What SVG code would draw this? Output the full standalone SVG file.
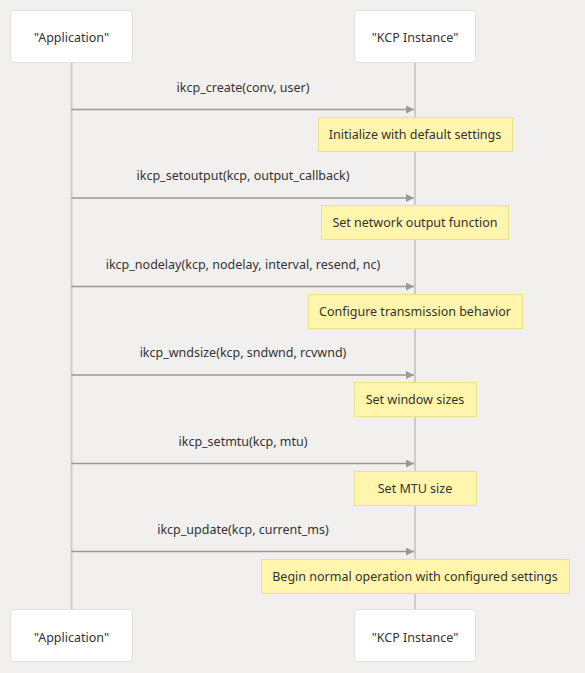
<svg xmlns="http://www.w3.org/2000/svg" width="585" height="673" viewBox="0 0 585 673">
<defs>
<style>
text{font-family:"Noto Sans","Liberation Sans",sans-serif;font-size:12.5px;fill:#333;text-anchor:middle;dominant-baseline:central}
.actor{fill:#fff;stroke:#e0e0e0;stroke-width:1}
.life{stroke:#ccc;stroke-width:2}
.msg{stroke:#999;stroke-width:1.5;fill:none;marker-end:url(#ah)}
.note{fill:#fff5ad;stroke:#ede08a;stroke-width:1}
</style>
<marker id="ah" viewBox="0 0 10 10" refX="10" refY="5" markerWidth="8" markerHeight="8" markerUnits="userSpaceOnUse" orient="auto">
<path d="M0,0 L10,5 L0,10 z" fill="#999"/>
</marker>
</defs>
<rect width="585" height="673" fill="#f2f0ef"/>
<g id="lifelines">
<line class="life" x1="71.5" y1="62" x2="71.5" y2="609"/>
<line class="life" x1="415" y1="62" x2="415" y2="609"/>
</g>
<g id="actor-app-top"><rect class="actor" x="10.5" y="10.5" width="122" height="52" rx="3"/><text x="71.5" y="37">"Application"</text></g>
<g id="actor-kcp-top"><rect class="actor" x="354.5" y="10.5" width="121" height="52" rx="3"/><text x="415" y="37">"KCP Instance"</text></g>
<g id="actor-app-bottom"><rect class="actor" x="10.5" y="609.5" width="122" height="52" rx="3"/><text x="71.5" y="637">"Application"</text></g>
<g id="actor-kcp-bottom"><rect class="actor" x="354.5" y="609.5" width="121" height="52" rx="3"/><text x="415" y="637">"KCP Instance"</text></g>
<g id="connectors">
<line class="msg" x1="71.5" y1="109.5" x2="414" y2="109.5"/>
<line class="msg" x1="71.5" y1="198" x2="414" y2="198"/>
<line class="msg" x1="71.5" y1="286.5" x2="414" y2="286.5"/>
<line class="msg" x1="71.5" y1="375" x2="414" y2="375"/>
<line class="msg" x1="71.5" y1="463.5" x2="414" y2="463.5"/>
<line class="msg" x1="71.5" y1="551.5" x2="414" y2="551.5"/>
<text x="243" y="87">ikcp_create(conv, user)</text>
<text x="243" y="175">ikcp_setoutput(kcp, output_callback)</text>
<text x="243" y="264">ikcp_nodelay(kcp, nodelay, interval, resend, nc)</text>
<text x="243" y="352">ikcp_wndsize(kcp, sndwnd, rcvwnd)</text>
<text x="243" y="441">ikcp_setmtu(kcp, mtu)</text>
<text x="243" y="529">ikcp_update(kcp, current_ms)</text>
</g>
<g id="note1"><rect class="note" x="318.5" y="117.5" width="194" height="34"/><text x="415" y="134">Initialize with default settings</text></g>
<g id="note2"><rect class="note" x="321.5" y="205.5" width="187" height="34"/><text x="415" y="222">Set network output function</text></g>
<g id="note3"><rect class="note" x="308.5" y="294.5" width="214" height="34"/><text x="415" y="311">Configure transmission behavior</text></g>
<g id="note4"><rect class="note" x="354.5" y="382.5" width="122" height="34"/><text x="415" y="399">Set window sizes</text></g>
<g id="note5"><rect class="note" x="354.5" y="471.5" width="122" height="34"/><text x="415" y="488">Set MTU size</text></g>
<g id="note6"><rect class="note" x="261.5" y="559.5" width="308" height="34"/><text x="415" y="576">Begin normal operation with configured settings</text></g>
</svg>
